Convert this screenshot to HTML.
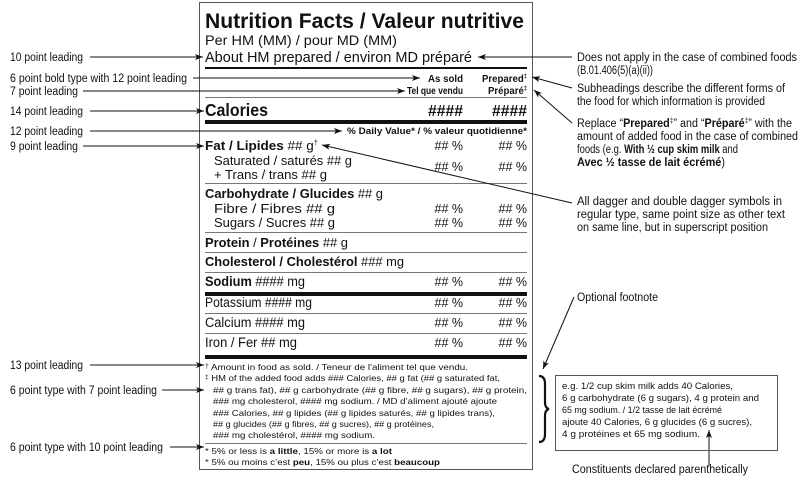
<!DOCTYPE html>
<html><head><meta charset="utf-8"><style>
html,body{margin:0;padding:0;background:#fff}
svg{display:block}
text{font-family:"Liberation Sans",Arial,sans-serif;fill:#111}
.b{font-weight:bold}
.r{text-anchor:end}
</style></head><body>
<svg width="802" height="477" viewBox="0 0 802 477" xmlns="http://www.w3.org/2000/svg">
<defs><marker id="ar" markerWidth="8" markerHeight="6" refX="8" refY="3" orient="auto" markerUnits="userSpaceOnUse"><path d="M0,0 L8,3 L0,6 L2,3z" fill="#111"/></marker></defs>
<rect x="199.5" y="2.5" width="333" height="467" fill="none" stroke="#555" stroke-width="1"/>
<g lengthAdjust="spacingAndGlyphs">
<text x="205" y="28" style="font-size:21.5px" class="b" textLength="319" lengthAdjust="spacingAndGlyphs">Nutrition Facts / Valeur nutritive</text>
<text x="205" y="45" style="font-size:13.5px" textLength="192" lengthAdjust="spacingAndGlyphs">Per HM (MM) / pour MD (MM)</text>
<text x="205" y="62" style="font-size:14.5px" textLength="267" lengthAdjust="spacingAndGlyphs">About HM prepared / environ MD préparé</text>
<rect x="205" y="67" width="322" height="2" fill="#111"/>
<text x="428" y="82" class="b" style="font-size:10px" textLength="35" lengthAdjust="spacingAndGlyphs">As sold</text>
<text x="482" y="82" class="b" style="font-size:10px" textLength="45" lengthAdjust="spacingAndGlyphs">Prepared<tspan font-size="6" dy="-4">‡</tspan></text>
<text x="407" y="94" class="b" style="font-size:10px" textLength="56" lengthAdjust="spacingAndGlyphs">Tel que vendu</text>
<text x="488" y="94" class="b" style="font-size:10px" textLength="39" lengthAdjust="spacingAndGlyphs">Préparé<tspan font-size="6" dy="-4">‡</tspan></text>
<rect x="205" y="97" width="322" height="1" fill="#777"/>
<text x="205" y="116" class="b" style="font-size:17.5px" textLength="63" lengthAdjust="spacingAndGlyphs">Calories</text>
<text x="428" y="116" class="b" style="font-size:16px" textLength="35" lengthAdjust="spacingAndGlyphs">####</text>
<text x="492" y="116" class="b" style="font-size:16px" textLength="35" lengthAdjust="spacingAndGlyphs">####</text>
<rect x="205" y="120" width="322" height="4" fill="#111"/>
<text x="347" y="134" class="b" style="font-size:9px" textLength="180" lengthAdjust="spacingAndGlyphs">% Daily Value* / % valeur quotidienne*</text>
<g style="font-size:12.5px">
<text x="205" y="150" textLength="113" lengthAdjust="spacingAndGlyphs"><tspan class="b">Fat / Lipides</tspan> ## g<tspan font-size="7" dy="-5">†</tspan></text>
<text x="463" y="150" class="r">## %</text><text x="527" y="150" class="r">## %</text>
<text x="214" y="165" textLength="138" lengthAdjust="spacingAndGlyphs">Saturated / saturés ## g</text>
<text x="214" y="179" textLength="113" lengthAdjust="spacingAndGlyphs">+ Trans / trans ## g</text>
<text x="463" y="171" class="r">## %</text><text x="527" y="171" class="r">## %</text>
<rect x="205" y="183" width="322" height="1" fill="#777"/>
<text x="205" y="198" textLength="178" lengthAdjust="spacingAndGlyphs"><tspan class="b">Carbohydrate / Glucides</tspan> ## g</text>
<text x="214" y="213" textLength="121" lengthAdjust="spacingAndGlyphs">Fibre / Fibres ## g</text>
<text x="463" y="213" class="r">## %</text><text x="527" y="213" class="r">## %</text>
<text x="214" y="227" textLength="121" lengthAdjust="spacingAndGlyphs">Sugars / Sucres ## g</text>
<text x="463" y="227" class="r">## %</text><text x="527" y="227" class="r">## %</text>
<rect x="205" y="232" width="322" height="1" fill="#777"/>
<text x="205" y="247" textLength="143" lengthAdjust="spacingAndGlyphs"><tspan class="b">Protein</tspan> / <tspan class="b">Protéines</tspan> ## g</text>
<rect x="205" y="252" width="322" height="1" fill="#777"/>
<text x="205" y="266" textLength="199" lengthAdjust="spacingAndGlyphs"><tspan class="b">Cholesterol / Cholestérol</tspan> ### mg</text>
<rect x="205" y="272" width="322" height="1" fill="#777"/>
<text x="205" y="286" style="font-size:13.5px" textLength="100" lengthAdjust="spacingAndGlyphs"><tspan class="b">Sodium</tspan> #### mg</text>
<text x="463" y="286" class="r">## %</text><text x="527" y="286" class="r">## %</text>
<rect x="205" y="292" width="322" height="4" fill="#111"/>
<text x="205" y="307" style="font-size:13.5px" textLength="107" lengthAdjust="spacingAndGlyphs">Potassium #### mg</text>
<text x="463" y="307" class="r">## %</text><text x="527" y="307" class="r">## %</text>
<rect x="205" y="313" width="322" height="1" fill="#777"/>
<text x="205" y="327" style="font-size:13.5px" textLength="100" lengthAdjust="spacingAndGlyphs">Calcium #### mg</text>
<text x="463" y="327" class="r">## %</text><text x="527" y="327" class="r">## %</text>
<rect x="205" y="333" width="322" height="1" fill="#777"/>
<text x="205" y="347" style="font-size:13.5px" textLength="92" lengthAdjust="spacingAndGlyphs">Iron / Fer ## mg</text>
<text x="463" y="347" class="r">## %</text><text x="527" y="347" class="r">## %</text>
</g>
<rect x="205" y="355" width="322" height="4" fill="#111"/>
<g style="font-size:8.6px">
<text x="205" y="370" textLength="263" lengthAdjust="spacingAndGlyphs"><tspan font-size="6" dy="-2">†</tspan><tspan dy="2"> Amount in food as sold. / Teneur de l'aliment tel que vendu.</tspan></text>
<text x="205" y="381" textLength="295" lengthAdjust="spacingAndGlyphs"><tspan font-size="6" dy="-2">‡</tspan><tspan dy="2"> HM of the added food adds ### Calories, ## g fat (## g saturated fat,</tspan></text>
<text x="213" y="393" textLength="314" lengthAdjust="spacingAndGlyphs">## g trans fat), ## g carbohydrate (## g fibre, ## g sugars), ## g protein,</text>
<text x="213" y="404" textLength="284" lengthAdjust="spacingAndGlyphs">### mg cholesterol, #### mg sodium. / MD d’aliment ajouté ajoute</text>
<text x="213" y="416" textLength="282" lengthAdjust="spacingAndGlyphs">### Calories, ## g lipides (## g lipides saturés, ## g lipides trans),</text>
<text x="213" y="427" textLength="221" lengthAdjust="spacingAndGlyphs">## g glucides (## g fibres, ## g sucres), ## g protéines,</text>
<text x="213" y="438" textLength="162" lengthAdjust="spacingAndGlyphs">### mg cholestérol, #### mg sodium.</text>
<rect x="205" y="443" width="322" height="1" fill="#777"/>
<text x="205" y="454" textLength="187" lengthAdjust="spacingAndGlyphs">* 5% or less is <tspan class="b">a little</tspan>, 15% or more is <tspan class="b">a lot</tspan></text>
<text x="205" y="465" textLength="235" lengthAdjust="spacingAndGlyphs">* 5% ou moins c’est <tspan class="b">peu</tspan>, 15% ou plus c’est <tspan class="b">beaucoup</tspan></text>
</g>
</g>
<g style="font-size:11.5px">
<text x="10" y="61" textLength="73" lengthAdjust="spacingAndGlyphs">10 point leading</text>
<text x="10" y="82" textLength="177" lengthAdjust="spacingAndGlyphs">6 point bold type with 12 point leading</text>
<text x="10" y="95" textLength="68" lengthAdjust="spacingAndGlyphs">7 point leading</text>
<text x="10" y="115" textLength="73" lengthAdjust="spacingAndGlyphs">14 point leading</text>
<text x="10" y="135" textLength="73" lengthAdjust="spacingAndGlyphs">12 point leading</text>
<text x="10" y="150" textLength="68" lengthAdjust="spacingAndGlyphs">9 point leading</text>
<text x="10" y="369" textLength="73" lengthAdjust="spacingAndGlyphs">13 point leading</text>
<text x="10" y="394" textLength="147" lengthAdjust="spacingAndGlyphs">6 point type with 7 point leading</text>
<text x="10" y="451" textLength="153" lengthAdjust="spacingAndGlyphs">6 point type with 10 point leading</text>
</g>
<g stroke="#111" stroke-width="1" fill="none">
<line x1="90" y1="57" x2="203" y2="57" marker-end="url(#ar)"/>
<line x1="193" y1="78" x2="420" y2="78" marker-end="url(#ar)"/>
<line x1="83" y1="91" x2="405" y2="91" marker-end="url(#ar)"/>
<line x1="90" y1="111" x2="204" y2="111" marker-end="url(#ar)"/>
<line x1="90" y1="131" x2="342" y2="131" marker-end="url(#ar)"/>
<line x1="83" y1="146" x2="204" y2="146" marker-end="url(#ar)"/>
<line x1="90" y1="365" x2="204" y2="365" marker-end="url(#ar)"/>
<line x1="162" y1="390" x2="204" y2="390" marker-end="url(#ar)"/>
<line x1="170" y1="447" x2="204" y2="447" marker-end="url(#ar)"/>
<line x1="572" y1="57" x2="478" y2="57" marker-end="url(#ar)"/>
<line x1="572" y1="88" x2="532" y2="77" marker-end="url(#ar)"/>
<line x1="572" y1="123" x2="534" y2="90" marker-end="url(#ar)"/>
<line x1="572" y1="203" x2="322" y2="145" marker-end="url(#ar)"/>
<line x1="574" y1="297" x2="543" y2="369" marker-end="url(#ar)"/>
<line x1="709" y1="466" x2="709" y2="430" marker-end="url(#ar)"/>
<path d="M539,376 Q545,376 545,384 L545,402 Q545,408 549,409 Q545,410 545,416 L545,434 Q545,442 539,442" stroke-width="2.2"/>
<rect x="555.5" y="375.5" width="222" height="75" stroke="#555"/>
</g>
<g style="font-size:11.5px">
<text x="577" y="61" textLength="220" lengthAdjust="spacingAndGlyphs">Does not apply in the case of combined foods</text>
<text x="577" y="74" textLength="76" lengthAdjust="spacingAndGlyphs">(B.01.406(5)(a)(ii))</text>
<text x="577" y="92" textLength="208" lengthAdjust="spacingAndGlyphs">Subheadings describe the different forms of</text>
<text x="577" y="105" textLength="188" lengthAdjust="spacingAndGlyphs">the food for which information is provided</text>
<text x="577" y="127" textLength="215" lengthAdjust="spacingAndGlyphs">Replace “<tspan class="b">Prepared</tspan><tspan font-size="7" dy="-4">‡</tspan><tspan dy="4">” and “</tspan><tspan class="b">Préparé</tspan><tspan font-size="7" dy="-4">‡</tspan><tspan dy="4">” with the</tspan></text>
<text x="577" y="140" textLength="221" lengthAdjust="spacingAndGlyphs">amount of added food in the case of combined</text>
<text x="577" y="153" textLength="161" lengthAdjust="spacingAndGlyphs">foods (e.g. <tspan class="b">With ½ cup skim milk</tspan> and</text>
<text x="577" y="166" textLength="148" lengthAdjust="spacingAndGlyphs"><tspan class="b">Avec ½ tasse de lait écrémé</tspan>)</text>
<text x="577" y="205" textLength="205" lengthAdjust="spacingAndGlyphs">All dagger and double dagger symbols in</text>
<text x="577" y="218" textLength="208" lengthAdjust="spacingAndGlyphs">regular type, same point size as other text</text>
<text x="577" y="231" textLength="191" lengthAdjust="spacingAndGlyphs">on same line, but in superscript position</text>
<text x="577" y="301" textLength="81" lengthAdjust="spacingAndGlyphs">Optional footnote</text>
<text x="572" y="473" textLength="176" lengthAdjust="spacingAndGlyphs">Constituents declared parenthetically</text>
</g>
<g style="font-size:9.3px">
<text x="562" y="389" textLength="171" lengthAdjust="spacingAndGlyphs">e.g. 1/2 cup skim milk adds 40 Calories,</text>
<text x="562" y="401" textLength="197" lengthAdjust="spacingAndGlyphs">6 g carbohydrate (6 g sugars), 4 g protein and</text>
<text x="562" y="413" textLength="160" lengthAdjust="spacingAndGlyphs">65 mg sodium. / 1/2 tasse de lait écrémé</text>
<text x="562" y="425" textLength="190" lengthAdjust="spacingAndGlyphs">ajoute 40 Calories, 6 g glucides (6 g sucres),</text>
<text x="562" y="437" textLength="138" lengthAdjust="spacingAndGlyphs">4 g protéines et 65 mg sodium.</text>
</g>
</svg>
</body></html>
